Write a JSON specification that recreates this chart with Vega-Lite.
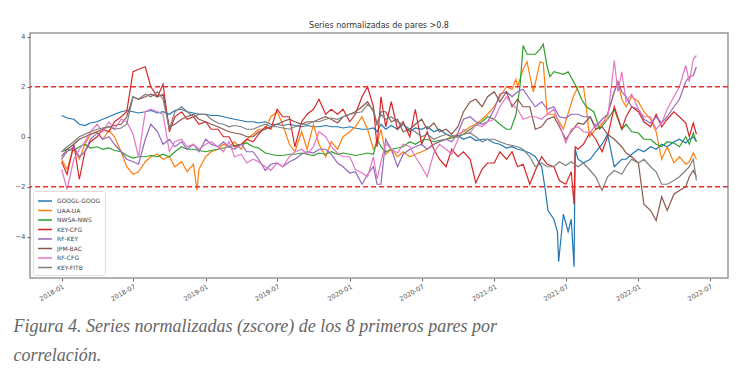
{
"$schema":"https://vega.github.io/schema/vega-lite/v6.json",
"width":698,"height":245,
"autosize":{"type":"none"},
"padding":{"left":30,"top":33,"right":13,"bottom":106},
"background":"white",
"title":{"text":"Series normalizadas de pares >0.8","font":"DejaVu Sans","fontSize":8,"fontWeight":"normal","color":"#333","offset":3,"anchor":"middle"},
"config":{"view":{"stroke":"#999","strokeWidth":1.5}},
"layer":[
{"data":{"values":[
{"t":"2018-01-01","GOOGL-GOOG":0.85,"UAA-UA":-0.9,"NWSA-NWS":-0.6,"KEY-CFG":-1.0,"RF-KEY":-0.9,"JPM-BAC":-0.8,"RF-CFG":-1.3,"KEY-FITB":-0.6},
{"t":"2018-01-15","GOOGL-GOOG":0.75,"UAA-UA":-1.3,"NWSA-NWS":-0.5,"KEY-CFG":-1.5,"RF-KEY":-0.6,"JPM-BAC":-0.5,"RF-CFG":-2.1,"KEY-FITB":-0.4},
{"t":"2018-02-01","GOOGL-GOOG":0.7,"UAA-UA":-0.4,"NWSA-NWS":-0.55,"KEY-CFG":-0.3,"RF-KEY":-0.4,"JPM-BAC":-0.3,"RF-CFG":-0.9,"KEY-FITB":-0.2},
{"t":"2018-02-15","GOOGL-GOOG":0.5,"UAA-UA":-0.9,"NWSA-NWS":-0.4,"KEY-CFG":-1.7,"RF-KEY":-0.8,"JPM-BAC":-0.1,"RF-CFG":-0.5,"KEY-FITB":0.0},
{"t":"2018-03-01","GOOGL-GOOG":0.45,"UAA-UA":-0.3,"NWSA-NWS":-0.3,"KEY-CFG":-0.6,"RF-KEY":-0.6,"JPM-BAC":0.0,"RF-CFG":-0.2,"KEY-FITB":0.1},
{"t":"2018-03-15","GOOGL-GOOG":0.55,"UAA-UA":0.1,"NWSA-NWS":-0.45,"KEY-CFG":-0.2,"RF-KEY":-0.1,"JPM-BAC":0.1,"RF-CFG":0.2,"KEY-FITB":0.2},
{"t":"2018-04-01","GOOGL-GOOG":0.6,"UAA-UA":0.2,"NWSA-NWS":-0.4,"KEY-CFG":0.0,"RF-KEY":0.15,"JPM-BAC":0.2,"RF-CFG":0.5,"KEY-FITB":0.3},
{"t":"2018-04-15","GOOGL-GOOG":0.7,"UAA-UA":-0.1,"NWSA-NWS":-0.5,"KEY-CFG":0.3,"RF-KEY":-0.1,"JPM-BAC":0.3,"RF-CFG":0.2,"KEY-FITB":0.35},
{"t":"2018-05-01","GOOGL-GOOG":0.8,"UAA-UA":0.25,"NWSA-NWS":-0.45,"KEY-CFG":0.2,"RF-KEY":0.0,"JPM-BAC":0.4,"RF-CFG":0.6,"KEY-FITB":0.4},
{"t":"2018-05-15","GOOGL-GOOG":0.9,"UAA-UA":0.0,"NWSA-NWS":-0.55,"KEY-CFG":0.6,"RF-KEY":-0.3,"JPM-BAC":0.45,"RF-CFG":0.3,"KEY-FITB":0.3},
{"t":"2018-06-01","GOOGL-GOOG":1.0,"UAA-UA":-0.6,"NWSA-NWS":-0.6,"KEY-CFG":0.8,"RF-KEY":-0.6,"JPM-BAC":0.5,"RF-CFG":0.7,"KEY-FITB":0.35},
{"t":"2018-06-15","GOOGL-GOOG":1.05,"UAA-UA":-1.2,"NWSA-NWS":-0.75,"KEY-CFG":1.0,"RF-KEY":-0.9,"JPM-BAC":0.8,"RF-CFG":0.6,"KEY-FITB":0.5},
{"t":"2018-07-01","GOOGL-GOOG":1.0,"UAA-UA":-1.5,"NWSA-NWS":-0.85,"KEY-CFG":2.6,"RF-KEY":-1.0,"JPM-BAC":1.6,"RF-CFG":0.1,"KEY-FITB":1.6},
{"t":"2018-07-15","GOOGL-GOOG":0.95,"UAA-UA":-1.4,"NWSA-NWS":-0.8,"KEY-CFG":2.7,"RF-KEY":-1.1,"JPM-BAC":1.5,"RF-CFG":-0.8,"KEY-FITB":1.5},
{"t":"2018-08-01","GOOGL-GOOG":1.0,"UAA-UA":-1.0,"NWSA-NWS":-0.8,"KEY-CFG":2.8,"RF-KEY":-0.1,"JPM-BAC":1.6,"RF-CFG":1.0,"KEY-FITB":1.7},
{"t":"2018-08-15","GOOGL-GOOG":1.05,"UAA-UA":-0.8,"NWSA-NWS":-0.75,"KEY-CFG":2.0,"RF-KEY":0.5,"JPM-BAC":1.7,"RF-CFG":1.1,"KEY-FITB":1.6},
{"t":"2018-09-01","GOOGL-GOOG":0.95,"UAA-UA":-0.7,"NWSA-NWS":-0.8,"KEY-CFG":1.6,"RF-KEY":0.2,"JPM-BAC":1.6,"RF-CFG":1.0,"KEY-FITB":1.8},
{"t":"2018-09-15","GOOGL-GOOG":1.0,"UAA-UA":-0.9,"NWSA-NWS":-0.7,"KEY-CFG":2.1,"RF-KEY":-0.3,"JPM-BAC":1.7,"RF-CFG":0.9,"KEY-FITB":1.5},
{"t":"2018-10-01","GOOGL-GOOG":0.9,"UAA-UA":-0.8,"NWSA-NWS":-0.8,"KEY-CFG":0.2,"RF-KEY":-0.1,"JPM-BAC":0.4,"RF-CFG":-0.6,"KEY-FITB":0.3},
{"t":"2018-10-15","GOOGL-GOOG":1.05,"UAA-UA":-1.2,"NWSA-NWS":-0.6,"KEY-CFG":0.8,"RF-KEY":-0.4,"JPM-BAC":0.5,"RF-CFG":-0.2,"KEY-FITB":1.0},
{"t":"2018-11-01","GOOGL-GOOG":1.1,"UAA-UA":-1.0,"NWSA-NWS":-0.4,"KEY-CFG":1.0,"RF-KEY":-0.2,"JPM-BAC":0.7,"RF-CFG":-0.1,"KEY-FITB":1.2},
{"t":"2018-11-15","GOOGL-GOOG":1.0,"UAA-UA":-1.4,"NWSA-NWS":-0.5,"KEY-CFG":0.7,"RF-KEY":-0.5,"JPM-BAC":0.8,"RF-CFG":-0.4,"KEY-FITB":1.0},
{"t":"2018-12-01","GOOGL-GOOG":0.95,"UAA-UA":-1.1,"NWSA-NWS":-0.5,"KEY-CFG":0.8,"RF-KEY":-0.3,"JPM-BAC":0.9,"RF-CFG":-0.3,"KEY-FITB":0.8},
{"t":"2018-12-10","UAA-UA":-2.15},
{"t":"2018-12-15","GOOGL-GOOG":0.9,"UAA-UA":-1.3,"NWSA-NWS":-0.55,"KEY-CFG":0.5,"RF-KEY":-0.6,"JPM-BAC":0.7,"RF-CFG":-0.5,"KEY-FITB":0.9},
{"t":"2019-01-01","GOOGL-GOOG":0.9,"UAA-UA":-0.8,"NWSA-NWS":-0.6,"KEY-CFG":0.6,"RF-KEY":-0.1,"JPM-BAC":0.6,"RF-CFG":-0.3,"KEY-FITB":0.9},
{"t":"2019-01-15","GOOGL-GOOG":0.85,"UAA-UA":-0.6,"NWSA-NWS":-0.55,"KEY-CFG":0.3,"RF-KEY":-0.3,"JPM-BAC":0.5,"RF-CFG":-0.2,"KEY-FITB":0.7},
{"t":"2019-02-01","GOOGL-GOOG":0.85,"UAA-UA":-0.5,"NWSA-NWS":-0.5,"KEY-CFG":0.3,"RF-KEY":-0.4,"JPM-BAC":0.4,"RF-CFG":-0.4,"KEY-FITB":0.55},
{"t":"2019-02-15","GOOGL-GOOG":0.8,"UAA-UA":-0.3,"NWSA-NWS":-0.45,"KEY-CFG":0.0,"RF-KEY":-0.2,"JPM-BAC":0.3,"RF-CFG":-0.6,"KEY-FITB":0.5},
{"t":"2019-03-01","GOOGL-GOOG":0.75,"UAA-UA":-0.4,"NWSA-NWS":-0.4,"KEY-CFG":0.0,"RF-KEY":-0.4,"JPM-BAC":0.2,"RF-CFG":-0.2,"KEY-FITB":0.4},
{"t":"2019-03-15","GOOGL-GOOG":0.7,"UAA-UA":-0.2,"NWSA-NWS":-0.35,"KEY-CFG":-0.4,"RF-KEY":-0.5,"JPM-BAC":0.15,"RF-CFG":-0.8,"KEY-FITB":0.45},
{"t":"2019-04-01","GOOGL-GOOG":0.65,"UAA-UA":-0.5,"NWSA-NWS":-0.3,"KEY-CFG":-0.3,"RF-KEY":-0.3,"JPM-BAC":0.1,"RF-CFG":-0.7,"KEY-FITB":0.4},
{"t":"2019-04-15","GOOGL-GOOG":0.6,"UAA-UA":-0.1,"NWSA-NWS":-0.25,"KEY-CFG":-0.1,"RF-KEY":-0.6,"JPM-BAC":0.0,"RF-CFG":-1.05,"KEY-FITB":0.3},
{"t":"2019-05-01","GOOGL-GOOG":0.6,"UAA-UA":0.1,"NWSA-NWS":-0.4,"KEY-CFG":-0.2,"RF-KEY":-0.6,"JPM-BAC":0.0,"RF-CFG":-0.9,"KEY-FITB":0.3},
{"t":"2019-05-15","GOOGL-GOOG":0.55,"UAA-UA":0.3,"NWSA-NWS":-0.45,"KEY-CFG":0.1,"RF-KEY":-0.9,"JPM-BAC":0.2,"RF-CFG":-1.0,"KEY-FITB":0.4},
{"t":"2019-06-01","GOOGL-GOOG":0.6,"UAA-UA":0.3,"NWSA-NWS":-0.65,"KEY-CFG":0.4,"RF-KEY":-1.35,"JPM-BAC":0.3,"RF-CFG":-1.2,"KEY-FITB":0.5},
{"t":"2019-06-15","GOOGL-GOOG":0.5,"UAA-UA":0.8,"NWSA-NWS":-0.7,"KEY-CFG":0.3,"RF-KEY":-1.1,"JPM-BAC":0.4,"RF-CFG":-1.35,"KEY-FITB":0.4},
{"t":"2019-07-01","GOOGL-GOOG":0.5,"UAA-UA":1.0,"NWSA-NWS":-0.75,"KEY-CFG":1.1,"RF-KEY":-1.05,"JPM-BAC":0.5,"RF-CFG":-1.05,"KEY-FITB":0.4},
{"t":"2019-07-15","GOOGL-GOOG":0.45,"UAA-UA":0.5,"NWSA-NWS":-0.75,"KEY-CFG":0.8,"RF-KEY":-1.2,"JPM-BAC":0.6,"RF-CFG":-1.2,"KEY-FITB":0.35},
{"t":"2019-08-01","GOOGL-GOOG":0.5,"UAA-UA":-0.3,"NWSA-NWS":-0.7,"KEY-CFG":0.8,"RF-KEY":-1.0,"JPM-BAC":0.7,"RF-CFG":-0.8,"KEY-FITB":0.3},
{"t":"2019-08-15","GOOGL-GOOG":0.45,"UAA-UA":-0.6,"NWSA-NWS":-0.7,"KEY-CFG":-0.4,"RF-KEY":-0.9,"JPM-BAC":0.6,"RF-CFG":-0.6,"KEY-FITB":0.4},
{"t":"2019-09-01","GOOGL-GOOG":0.4,"UAA-UA":0.2,"NWSA-NWS":-0.65,"KEY-CFG":0.6,"RF-KEY":-0.7,"JPM-BAC":0.5,"RF-CFG":-0.5,"KEY-FITB":0.5},
{"t":"2019-09-15","GOOGL-GOOG":0.45,"UAA-UA":-0.5,"NWSA-NWS":-0.7,"KEY-CFG":0.9,"RF-KEY":-0.6,"JPM-BAC":0.6,"RF-CFG":-0.7,"KEY-FITB":0.5},
{"t":"2019-10-01","GOOGL-GOOG":0.4,"UAA-UA":0.5,"NWSA-NWS":-0.75,"KEY-CFG":1.1,"RF-KEY":-0.65,"JPM-BAC":0.6,"RF-CFG":-0.4,"KEY-FITB":0.6},
{"t":"2019-10-15","GOOGL-GOOG":0.4,"UAA-UA":-0.3,"NWSA-NWS":-0.65,"KEY-CFG":1.5,"RF-KEY":-0.5,"JPM-BAC":0.7,"RF-CFG":0.2,"KEY-FITB":0.6},
{"t":"2019-11-01","GOOGL-GOOG":0.45,"UAA-UA":-0.8,"NWSA-NWS":-0.7,"KEY-CFG":0.9,"RF-KEY":-0.5,"JPM-BAC":0.8,"RF-CFG":0.0,"KEY-FITB":0.7},
{"t":"2019-11-15","GOOGL-GOOG":0.4,"UAA-UA":-0.2,"NWSA-NWS":-0.6,"KEY-CFG":1.1,"RF-KEY":-0.7,"JPM-BAC":0.7,"RF-CFG":-0.4,"KEY-FITB":0.75},
{"t":"2019-12-01","GOOGL-GOOG":0.4,"UAA-UA":-0.5,"NWSA-NWS":-0.7,"KEY-CFG":0.9,"RF-KEY":-1.05,"JPM-BAC":0.55,"RF-CFG":-0.65,"KEY-FITB":0.7},
{"t":"2019-12-15","GOOGL-GOOG":0.35,"UAA-UA":0.0,"NWSA-NWS":-0.65,"KEY-CFG":1.1,"RF-KEY":-1.2,"JPM-BAC":0.8,"RF-CFG":-0.8,"KEY-FITB":0.8},
{"t":"2020-01-01","GOOGL-GOOG":0.4,"UAA-UA":0.2,"NWSA-NWS":-0.7,"KEY-CFG":0.6,"RF-KEY":-1.45,"JPM-BAC":0.9,"RF-CFG":-0.8,"KEY-FITB":0.9},
{"t":"2020-01-15","GOOGL-GOOG":0.35,"UAA-UA":0.4,"NWSA-NWS":-0.75,"KEY-CFG":0.9,"RF-KEY":-1.4,"JPM-BAC":1.0,"RF-CFG":-1.3,"KEY-FITB":0.95},
{"t":"2020-02-01","GOOGL-GOOG":0.3,"UAA-UA":0.8,"NWSA-NWS":-0.7,"KEY-CFG":1.6,"RF-KEY":-1.9,"JPM-BAC":1.2,"RF-CFG":-1.45,"KEY-FITB":1.0},
{"t":"2020-02-15","GOOGL-GOOG":0.3,"UAA-UA":0.3,"NWSA-NWS":-0.65,"KEY-CFG":2.0,"RF-KEY":-1.5,"JPM-BAC":1.4,"RF-CFG":-1.6,"KEY-FITB":1.3},
{"t":"2020-03-01","GOOGL-GOOG":0.35,"UAA-UA":-0.5,"NWSA-NWS":-0.7,"KEY-CFG":1.2,"RF-KEY":-1.2,"JPM-BAC":1.0,"RF-CFG":-0.8,"KEY-FITB":1.1},
{"t":"2020-03-10","GOOGL-GOOG":0.2,"UAA-UA":-0.3,"NWSA-NWS":-0.1,"KEY-CFG":-0.4,"RF-KEY":-1.9,"JPM-BAC":0.5,"RF-CFG":-1.7,"KEY-FITB":0.5},
{"t":"2020-03-20","GOOGL-GOOG":0.5,"UAA-UA":0.3,"NWSA-NWS":-0.4,"KEY-CFG":1.6,"RF-KEY":-1.9,"JPM-BAC":1.0,"RF-CFG":-1.0,"KEY-FITB":0.9},
{"t":"2020-04-01","GOOGL-GOOG":0.3,"UAA-UA":-0.7,"NWSA-NWS":-0.6,"KEY-CFG":0.4,"RF-KEY":-0.1,"JPM-BAC":1.0,"RF-CFG":-0.25,"KEY-FITB":0.7},
{"t":"2020-04-15","GOOGL-GOOG":0.45,"UAA-UA":-0.5,"NWSA-NWS":-0.5,"KEY-CFG":1.4,"RF-KEY":-0.5,"JPM-BAC":0.6,"RF-CFG":-0.5,"KEY-FITB":0.8},
{"t":"2020-05-01","GOOGL-GOOG":0.3,"UAA-UA":-0.8,"NWSA-NWS":-0.45,"KEY-CFG":0.3,"RF-KEY":-1.2,"JPM-BAC":0.7,"RF-CFG":-0.65,"KEY-FITB":0.6},
{"t":"2020-05-15","GOOGL-GOOG":0.5,"UAA-UA":-0.6,"NWSA-NWS":-0.4,"KEY-CFG":0.6,"RF-KEY":-0.7,"JPM-BAC":0.2,"RF-CFG":-0.3,"KEY-FITB":0.5},
{"t":"2020-06-01","GOOGL-GOOG":0.2,"UAA-UA":-0.8,"NWSA-NWS":-0.2,"KEY-CFG":0.0,"RF-KEY":-0.5,"JPM-BAC":0.3,"RF-CFG":-0.4,"KEY-FITB":0.3},
{"t":"2020-06-15","GOOGL-GOOG":0.35,"UAA-UA":-0.7,"NWSA-NWS":-0.3,"KEY-CFG":1.1,"RF-KEY":-0.4,"JPM-BAC":0.5,"RF-CFG":-0.8,"KEY-FITB":0.2},
{"t":"2020-07-01","GOOGL-GOOG":0.3,"UAA-UA":-0.6,"NWSA-NWS":-0.15,"KEY-CFG":-0.3,"RF-KEY":-0.3,"JPM-BAC":0.7,"RF-CFG":-1.2,"KEY-FITB":0.0},
{"t":"2020-07-15","GOOGL-GOOG":0.4,"UAA-UA":-0.5,"NWSA-NWS":-0.1,"KEY-CFG":0.2,"RF-KEY":-0.5,"JPM-BAC":0.3,"RF-CFG":-1.6,"KEY-FITB":0.1},
{"t":"2020-08-01","GOOGL-GOOG":0.2,"UAA-UA":-0.3,"NWSA-NWS":-0.2,"KEY-CFG":-0.5,"RF-KEY":-0.3,"JPM-BAC":0.55,"RF-CFG":-0.65,"KEY-FITB":-0.1},
{"t":"2020-08-15","GOOGL-GOOG":0.3,"UAA-UA":-0.2,"NWSA-NWS":-0.15,"KEY-CFG":-0.9,"RF-KEY":-0.2,"JPM-BAC":0.2,"RF-CFG":-0.3,"KEY-FITB":0.0},
{"t":"2020-09-01","GOOGL-GOOG":0.1,"UAA-UA":-0.1,"NWSA-NWS":-0.1,"KEY-CFG":-1.2,"RF-KEY":-0.1,"JPM-BAC":0.3,"RF-CFG":-0.5,"KEY-FITB":0.1},
{"t":"2020-09-15","GOOGL-GOOG":0.0,"UAA-UA":0.0,"NWSA-NWS":-0.05,"KEY-CFG":-0.5,"RF-KEY":-0.2,"JPM-BAC":0.1,"RF-CFG":-0.7,"KEY-FITB":0.05},
{"t":"2020-10-01","GOOGL-GOOG":0.05,"UAA-UA":0.1,"NWSA-NWS":0.0,"KEY-CFG":-0.8,"RF-KEY":0.15,"JPM-BAC":0.4,"RF-CFG":-0.1,"KEY-FITB":0.0},
{"t":"2020-10-15","GOOGL-GOOG":-0.1,"UAA-UA":0.2,"NWSA-NWS":0.1,"KEY-CFG":-0.6,"RF-KEY":0.7,"JPM-BAC":1.0,"RF-CFG":0.3,"KEY-FITB":0.1},
{"t":"2020-11-01","GOOGL-GOOG":0.0,"UAA-UA":0.4,"NWSA-NWS":0.3,"KEY-CFG":-0.9,"RF-KEY":0.8,"JPM-BAC":1.4,"RF-CFG":0.15,"KEY-FITB":0.15},
{"t":"2020-11-15","GOOGL-GOOG":-0.15,"UAA-UA":0.5,"NWSA-NWS":0.45,"KEY-CFG":-1.85,"RF-KEY":0.6,"JPM-BAC":1.5,"RF-CFG":0.5,"KEY-FITB":0.0},
{"t":"2020-12-01","GOOGL-GOOG":-0.1,"UAA-UA":0.7,"NWSA-NWS":0.6,"KEY-CFG":-1.3,"RF-KEY":0.5,"JPM-BAC":1.2,"RF-CFG":0.4,"KEY-FITB":-0.2},
{"t":"2020-12-15","GOOGL-GOOG":-0.1,"UAA-UA":0.9,"NWSA-NWS":0.8,"KEY-CFG":-1.05,"RF-KEY":0.6,"JPM-BAC":1.6,"RF-CFG":0.6,"KEY-FITB":-0.1},
{"t":"2021-01-01","GOOGL-GOOG":-0.25,"UAA-UA":1.2,"NWSA-NWS":0.7,"KEY-CFG":-1.05,"RF-KEY":1.1,"JPM-BAC":1.8,"RF-CFG":0.7,"KEY-FITB":-0.1},
{"t":"2021-01-15","GOOGL-GOOG":-0.3,"UAA-UA":1.6,"NWSA-NWS":0.5,"KEY-CFG":-0.6,"RF-KEY":1.7,"JPM-BAC":1.4,"RF-CFG":1.2,"KEY-FITB":-0.2},
{"t":"2021-02-01","GOOGL-GOOG":-0.45,"UAA-UA":2.0,"NWSA-NWS":0.3,"KEY-CFG":-0.9,"RF-KEY":1.8,"JPM-BAC":1.8,"RF-CFG":1.6,"KEY-FITB":-0.3},
{"t":"2021-02-12","NWSA-NWS":0.3},
{"t":"2021-02-15","GOOGL-GOOG":-0.4,"UAA-UA":1.9,"KEY-CFG":-0.6,"RF-KEY":1.6,"JPM-BAC":1.2,"RF-CFG":1.3,"KEY-FITB":-0.35},
{"t":"2021-02-25","UAA-UA":2.3,"NWSA-NWS":0.9},
{"t":"2021-03-01","GOOGL-GOOG":-0.5,"UAA-UA":2.0,"KEY-CFG":-1.2,"RF-KEY":1.8,"JPM-BAC":1.5,"RF-CFG":1.1,"KEY-FITB":-0.4},
{"t":"2021-03-07","NWSA-NWS":2.0},
{"t":"2021-03-15","GOOGL-GOOG":-0.55,"UAA-UA":2.7,"NWSA-NWS":3.65,"KEY-CFG":-1.1,"RF-KEY":1.9,"JPM-BAC":1.2,"RF-CFG":0.7,"KEY-FITB":-0.5},
{"t":"2021-03-25","UAA-UA":3.0,"NWSA-NWS":3.3},
{"t":"2021-04-01","GOOGL-GOOG":-0.65,"UAA-UA":2.45,"KEY-CFG":-1.9,"RF-KEY":1.5,"JPM-BAC":1.2,"RF-CFG":0.8,"KEY-FITB":-0.8},
{"t":"2021-04-10","UAA-UA":1.8},
{"t":"2021-04-15","GOOGL-GOOG":-0.8,"NWSA-NWS":3.3,"KEY-CFG":-1.35,"RF-KEY":1.2,"JPM-BAC":0.3,"RF-CFG":0.8,"KEY-FITB":-1.2},
{"t":"2021-04-27","UAA-UA":3.0,"NWSA-NWS":3.5},
{"t":"2021-05-01","GOOGL-GOOG":-1.2,"KEY-CFG":-0.8,"RF-KEY":1.4,"JPM-BAC":0.4,"RF-CFG":0.7,"KEY-FITB":-1.05},
{"t":"2021-05-05","GOOGL-GOOG":-1.6,"UAA-UA":2.95,"NWSA-NWS":3.7},
{"t":"2021-05-10","GOOGL-GOOG":-2.1},
{"t":"2021-05-15","UAA-UA":0.9,"NWSA-NWS":2.8,"KEY-CFG":-1.1,"RF-KEY":1.1,"JPM-BAC":0.7,"RF-CFG":0.9,"KEY-FITB":-1.2},
{"t":"2021-05-17","GOOGL-GOOG":-2.95},
{"t":"2021-05-22","NWSA-NWS":2.4},
{"t":"2021-06-01","GOOGL-GOOG":-3.3,"UAA-UA":0.9,"NWSA-NWS":2.6,"KEY-CFG":-1.2,"RF-KEY":1.2,"JPM-BAC":0.8,"RF-CFG":1.1,"KEY-FITB":-1.2},
{"t":"2021-06-10","GOOGL-GOOG":-3.8},
{"t":"2021-06-13","GOOGL-GOOG":-5.0},
{"t":"2021-06-15","UAA-UA":0.6,"KEY-CFG":-1.75,"RF-KEY":0.8,"JPM-BAC":0.4,"RF-CFG":0.5,"KEY-FITB":-1.0},
{"t":"2021-06-25","GOOGL-GOOG":-3.1,"UAA-UA":0.3,"NWSA-NWS":2.5},
{"t":"2021-07-01","KEY-CFG":-1.9,"RF-KEY":0.75,"JPM-BAC":-0.1,"RF-CFG":-0.25,"KEY-FITB":-1.15},
{"t":"2021-07-07","GOOGL-GOOG":-3.8,"NWSA-NWS":2.6},
{"t":"2021-07-15","GOOGL-GOOG":-3.3,"KEY-CFG":-1.4,"RF-KEY":0.9,"JPM-BAC":0.2,"RF-CFG":0.3,"KEY-FITB":-1.0},
{"t":"2021-07-20","UAA-UA":1.6},
{"t":"2021-07-22","GOOGL-GOOG":-5.2,"KEY-CFG":-2.7},
{"t":"2021-07-25","GOOGL-GOOG":-0.5,"KEY-CFG":-0.4},
{"t":"2021-07-28","NWSA-NWS":2.0},
{"t":"2021-08-01","GOOGL-GOOG":-0.9,"UAA-UA":2.0,"KEY-CFG":-0.5,"RF-KEY":0.9,"JPM-BAC":0.55,"RF-CFG":0.4,"KEY-FITB":-1.2},
{"t":"2021-08-10","NWSA-NWS":1.5},
{"t":"2021-08-15","GOOGL-GOOG":-1.05,"UAA-UA":2.0,"KEY-CFG":-0.3,"RF-KEY":0.8,"JPM-BAC":0.5,"RF-CFG":0.2,"KEY-FITB":-1.05},
{"t":"2021-08-22","UAA-UA":1.2,"NWSA-NWS":1.2},
{"t":"2021-08-30","UAA-UA":0.0},
{"t":"2021-09-01","GOOGL-GOOG":-0.9,"KEY-CFG":0.2,"RF-KEY":0.8,"JPM-BAC":0.8,"RF-CFG":0.15,"KEY-FITB":-1.35},
{"t":"2021-09-10","NWSA-NWS":1.0},
{"t":"2021-09-15","GOOGL-GOOG":-0.6,"UAA-UA":0.3,"KEY-CFG":-0.1,"RF-KEY":0.4,"JPM-BAC":0.3,"RF-CFG":0.5,"KEY-FITB":-1.6},
{"t":"2021-09-25","NWSA-NWS":0.3},
{"t":"2021-10-01","GOOGL-GOOG":-0.3,"UAA-UA":0.5,"KEY-CFG":-0.6,"RF-KEY":0.7,"JPM-BAC":0.4,"RF-CFG":0.55,"KEY-FITB":-2.15},
{"t":"2021-10-15","GOOGL-GOOG":0.1,"UAA-UA":0.9,"NWSA-NWS":0.7,"KEY-CFG":0.0,"RF-KEY":0.9,"JPM-BAC":0.1,"RF-CFG":0.7,"KEY-FITB":-1.6},
{"t":"2021-11-01","GOOGL-GOOG":-1.2,"UAA-UA":1.8,"NWSA-NWS":1.1,"KEY-CFG":1.2,"RF-KEY":1.8,"JPM-BAC":-0.1,"RF-CFG":3.05,"KEY-FITB":-1.35},
{"t":"2021-11-10","UAA-UA":2.2,"RF-KEY":2.2,"RF-CFG":1.8},
{"t":"2021-11-20","GOOGL-GOOG":-0.9,"UAA-UA":1.5,"NWSA-NWS":0.3,"KEY-CFG":0.3,"RF-KEY":1.8,"JPM-BAC":-0.4,"RF-CFG":2.6,"KEY-FITB":-1.5},
{"t":"2021-12-01","GOOGL-GOOG":-0.9,"UAA-UA":1.2,"NWSA-NWS":0.5,"KEY-CFG":0.8,"RF-KEY":1.6,"JPM-BAC":-0.65,"RF-CFG":1.4,"KEY-FITB":-1.2},
{"t":"2021-12-15","GOOGL-GOOG":-0.7,"UAA-UA":1.6,"NWSA-NWS":0.2,"KEY-CFG":1.2,"RF-KEY":1.2,"JPM-BAC":-0.8,"RF-CFG":1.7,"KEY-FITB":-0.9},
{"t":"2022-01-01","GOOGL-GOOG":-0.5,"UAA-UA":1.4,"NWSA-NWS":0.15,"KEY-CFG":1.0,"RF-KEY":1.1,"JPM-BAC":-1.05,"RF-CFG":1.1,"KEY-FITB":-1.05},
{"t":"2022-01-15","GOOGL-GOOG":-0.6,"UAA-UA":1.0,"NWSA-NWS":-0.1,"KEY-CFG":0.6,"RF-KEY":0.7,"JPM-BAC":-2.7,"RF-CFG":0.8,"KEY-FITB":-0.9},
{"t":"2022-02-01","GOOGL-GOOG":-0.4,"UAA-UA":0.7,"NWSA-NWS":-0.1,"KEY-CFG":0.4,"RF-KEY":0.55,"JPM-BAC":-2.95,"RF-CFG":0.8,"KEY-FITB":-1.2},
{"t":"2022-02-15","GOOGL-GOOG":-0.5,"UAA-UA":0.2,"NWSA-NWS":-0.3,"KEY-CFG":0.9,"RF-KEY":0.8,"JPM-BAC":-3.35,"RF-CFG":0.3,"KEY-FITB":-1.4},
{"t":"2022-03-01","GOOGL-GOOG":-0.3,"UAA-UA":-0.9,"NWSA-NWS":-0.4,"KEY-CFG":0.4,"RF-KEY":0.55,"JPM-BAC":-2.4,"RF-CFG":0.55,"KEY-FITB":-1.9},
{"t":"2022-03-15","GOOGL-GOOG":-0.4,"UAA-UA":-0.4,"NWSA-NWS":-0.2,"KEY-CFG":0.7,"RF-KEY":0.8,"JPM-BAC":-2.95,"RF-CFG":1.1,"KEY-FITB":-1.9},
{"t":"2022-04-01","GOOGL-GOOG":-0.2,"UAA-UA":-1.05,"NWSA-NWS":-0.25,"KEY-CFG":1.0,"RF-KEY":1.2,"JPM-BAC":-2.3,"RF-CFG":1.6,"KEY-FITB":-1.75},
{"t":"2022-04-15","GOOGL-GOOG":-0.1,"UAA-UA":-0.8,"NWSA-NWS":-0.4,"KEY-CFG":0.8,"RF-KEY":1.5,"JPM-BAC":-2.15,"RF-CFG":2.0,"KEY-FITB":-1.6},
{"t":"2022-05-01","GOOGL-GOOG":-0.25,"UAA-UA":-1.1,"NWSA-NWS":0.0,"KEY-CFG":0.55,"RF-KEY":2.2,"JPM-BAC":-2.0,"RF-CFG":2.85,"KEY-FITB":-1.35},
{"t":"2022-05-10","GOOGL-GOOG":-0.1,"UAA-UA":-1.0,"NWSA-NWS":-0.3,"KEY-CFG":0.0,"RF-KEY":2.4,"JPM-BAC":-1.6,"RF-CFG":2.2,"KEY-FITB":-1.2},
{"t":"2022-05-20","GOOGL-GOOG":0.0,"UAA-UA":-0.65,"NWSA-NWS":0.15,"KEY-CFG":0.55,"RF-KEY":2.45,"JPM-BAC":-1.35,"RF-CFG":3.1,"KEY-FITB":-0.9},
{"t":"2022-05-28","GOOGL-GOOG":-0.2,"UAA-UA":-0.9,"NWSA-NWS":-0.2,"KEY-CFG":0.1,"RF-KEY":2.8,"JPM-BAC":-1.6,"RF-CFG":3.25,"KEY-FITB":-1.75}
]},
"transform":[
{"fold":["GOOGL-GOOG","UAA-UA","NWSA-NWS","KEY-CFG","RF-KEY","JPM-BAC","RF-CFG","KEY-FITB"],"as":["serie","z"]},
{"filter":"isValid(datum.z)"}
],
"mark":{"type":"line","strokeWidth":1.2},
"encoding":{
"x":{"field":"t","type":"temporal",
"scale":{"domain":[{"year":2017,"month":10,"date":13},{"year":2022,"month":8,"date":16}]},
"axis":{"title":["Figura 4. Series normalizadas (zscore) de los 8 primeros pares por","correlación."],
"format":"%Y-%m","tickCount":{"interval":"month","step":6},"labelAngle":-30,"labelFont":"DejaVu Sans","labelFontSize":6.5,"labelColor":"#555","tickColor":"#666","tickSize":3,"domain":false,"grid":false,"labelPadding":2,"labelFlush":false,"labelOverlap":false,
"titleFont":"Liberation Serif","titleFontStyle":"italic","titleFontWeight":"normal","titleFontSize":18,"titleColor":"#666","titleAlign":"left","titleX":-17,"titleY":53,"titleBaseline":"alphabetic","titleLineHeight":29}},
"y":{"field":"z","type":"quantitative","scale":{"domain":[-5.65,4.15],"nice":false,"zero":false},
"axis":{"title":null,"values":[-4,-2,0,2,4],"format":"d","labelFont":"DejaVu Sans","labelFontSize":7,"labelColor":"#555","tickColor":"#666","tickSize":3,"domain":false,"grid":false,"labelPadding":2}},
"color":{"field":"serie","type":"nominal",
"scale":{"domain":["GOOGL-GOOG","UAA-UA","NWSA-NWS","KEY-CFG","RF-KEY","JPM-BAC","RF-CFG","KEY-FITB"],"range":["#1f77b4","#ff7f0e","#2ca02c","#d62728","#9467bd","#8c564b","#e377c2","#7f7f7f"]},
"legend":{"title":null,"orient":"bottom-left","offset":3,"padding":4,"fillColor":"white","strokeColor":"#ddd","cornerRadius":2,"labelFont":"DejaVu Sans","labelFontSize":6,"labelColor":"#444","symbolType":"M-1.4,0H1.4","symbolSize":100,"symbolStrokeWidth":1.5,"symbolOffset":2,"rowPadding":0.5,"labelOffset":6}}
}},
{"data":{"values":[{"y":2},{"y":-2}]},
"mark":{"type":"rule","color":"#f03030","strokeDash":[5,3],"strokeWidth":1.5},
"encoding":{"y":{"field":"y","type":"quantitative"}}}
]
}
